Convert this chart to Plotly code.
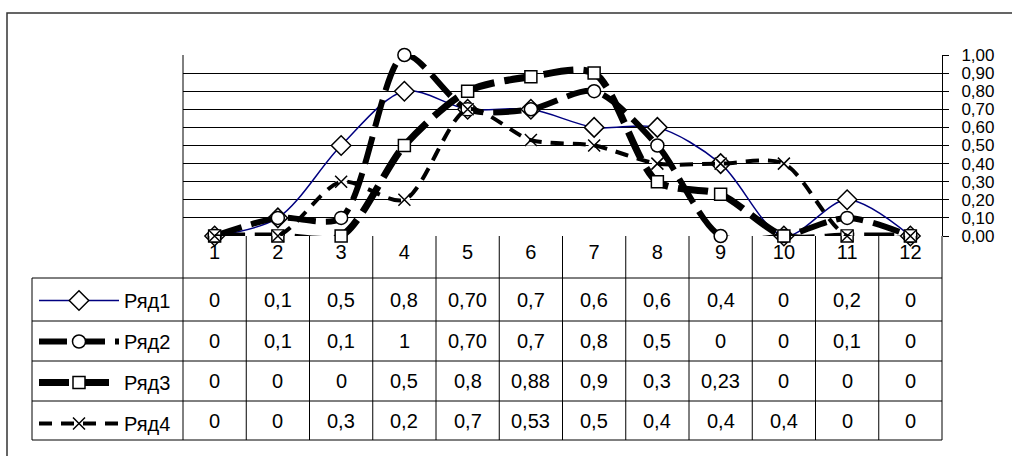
import plotly.graph_objects as go

# ---------------- data ----------------
categories = [str(i) for i in range(1, 13)]
series_names = ["Ряд1", "Ряд2", "Ряд3", "Ряд4"]
ryad1 = ["0", "0,1", "0,5", "0,8", "0,70", "0,7", "0,6", "0,6", "0,4", "0", "0,2", "0"]
ryad2 = ["0", "0,1", "0,1", "1", "0,70", "0,7", "0,8", "0,5", "0", "0", "0,1", "0"]
ryad3 = ["0", "0", "0", "0,5", "0,8", "0,88", "0,9", "0,3", "0,23", "0", "0", "0"]
ryad4 = ["0", "0", "0,3", "0,2", "0,7", "0,53", "0,5", "0,4", "0,4", "0,4", "0", "0"]
y_ticks = [0.0, 0.1, 0.2, 0.3, 0.4, 0.5, 0.6, 0.7, 0.8, 0.9, 1.0]

table_labels = [ryad1, ryad2, ryad3, ryad4]


def num(vals):
    return [float(v.replace(",", ".")) for v in vals]


# ---------------- geometry (pixels) ----------------
W, H = 1012, 456
L, R, T, B = 183, 942, 55, 236
PW, PH = R - L, B - T
FONT = "Liberation Sans, Arial, sans-serif"
FS = 20
FS_Y = 17


def px_x(px):
    return (px - L) / PW


def px_y(py):
    return (B - py) / PH


row_lines = [278, 321, 361, 401, 440]
row_centers = [300, 341, 381, 421]
table_left = 32

styles = [
    dict(line=dict(color="#000080", width=1.5, shape="spline", smoothing=0.9),
         marker=dict(symbol="diamond", size=15, color="white",
                     line=dict(color="black", width=1.5))),
    dict(line=dict(color="black", width=6, dash="28px,10px", shape="spline",
                   smoothing=0.8),
         marker=dict(symbol="circle", size=13, color="white",
                     line=dict(color="black", width=1.5))),
    dict(line=dict(color="black", width=7, dash="30px,10px", shape="spline",
                   smoothing=0.8),
         marker=dict(symbol="square", size=12, color="white",
                     line=dict(color="black", width=1.5))),
    dict(line=dict(color="black", width=4, dash="13px,9px", shape="spline",
                   smoothing=0.8),
         marker=dict(symbol="x-thin-open", size=12, color="black",
                     line=dict(color="black", width=1.5))),
]

fig = go.Figure()
for i, (name, vals) in enumerate(zip(series_names, table_labels)):
    if i == 3:
        # white background behind the X markers (as in the original)
        fig.add_trace(go.Scatter(
            x=categories, y=num(vals), mode="markers", showlegend=False,
            hoverinfo="skip", legendgroup=name,
            marker=dict(symbol="square", size=11, color="white")))
    fig.add_trace(go.Scatter(
        x=categories, y=num(vals), name=name, mode="lines+markers",
        legendgroup=name, cliponaxis=False, **styles[i]))

shapes = []
line_style = dict(color="black", width=1)
# outer chart border
shapes.append(dict(type="rect", xref="paper", yref="paper",
                   x0=px_x(7), x1=px_x(W + 10), y0=px_y(H + 10), y1=px_y(13),
                   line=dict(color="#333333", width=1.5)))
# horizontal table lines
for py in row_lines:
    shapes.append(dict(type="line", xref="paper", yref="paper",
                       x0=px_x(table_left), x1=1, y0=px_y(py), y1=px_y(py),
                       line=line_style))
# vertical column lines
for k in range(len(categories) + 1):
    top = 0 if k > 0 else 1
    shapes.append(dict(type="line", xref="paper", yref="paper",
                       x0=k / len(categories), x1=k / len(categories),
                       y0=top, y1=px_y(row_lines[-1]), line=line_style))
# legend column left boundary
shapes.append(dict(type="line", xref="paper", yref="paper",
                   x0=px_x(table_left), x1=px_x(table_left),
                   y0=px_y(row_lines[0]), y1=px_y(row_lines[-1]),
                   line=line_style))

annotations = []
for r, vals in enumerate(table_labels):
    for c, v in enumerate(vals):
        annotations.append(dict(
            x=c, xref="x", y=px_y(row_centers[r]), yref="paper",
            text=v, showarrow=False, xanchor="center", yanchor="middle",
            font=dict(family=FONT, size=FS, color="black")))

fig.update_layout(
    width=W, height=H,
    margin=dict(l=L, r=W - R, t=T, b=H - B, pad=0, autoexpand=False),
    paper_bgcolor="white", plot_bgcolor="white",
    separators=", ",
    font=dict(family=FONT, size=FS, color="black"),
    shapes=shapes, annotations=annotations,
    showlegend=True,
    legend=dict(x=px_x(34), xanchor="left", y=px_y(281), yanchor="top",
                orientation="v", traceorder="grouped", itemwidth=80,
                itemsizing="trace",
                tracegroupgap=12, bgcolor="rgba(0,0,0,0)",
                font=dict(family=FONT, size=FS, color="black")),
    xaxis=dict(type="category", range=[-0.5, len(categories) - 0.5],
               showgrid=False, showline=False, zeroline=False, ticks="",
               automargin=False, ticklabelstandoff=2,
               tickfont=dict(family=FONT, size=FS, color="black")),
    yaxis=dict(side="right", range=[0, 1], tickvals=y_ticks,
               tickformat=".2f", showgrid=True, gridcolor="black",
               gridwidth=1, zeroline=False, showline=True, automargin=False,
               linecolor="black", linewidth=1, ticks="outside", ticklen=6,
               tickcolor="black", ticklabelstandoff=9,
               tickfont=dict(family=FONT, size=FS_Y, color="black")),
)

fig.write_html("out.html",
               config={"displayModeBar": False},
               post_script="document.body.style.margin='0';"
                           "document.body.style.overflow='hidden';")
